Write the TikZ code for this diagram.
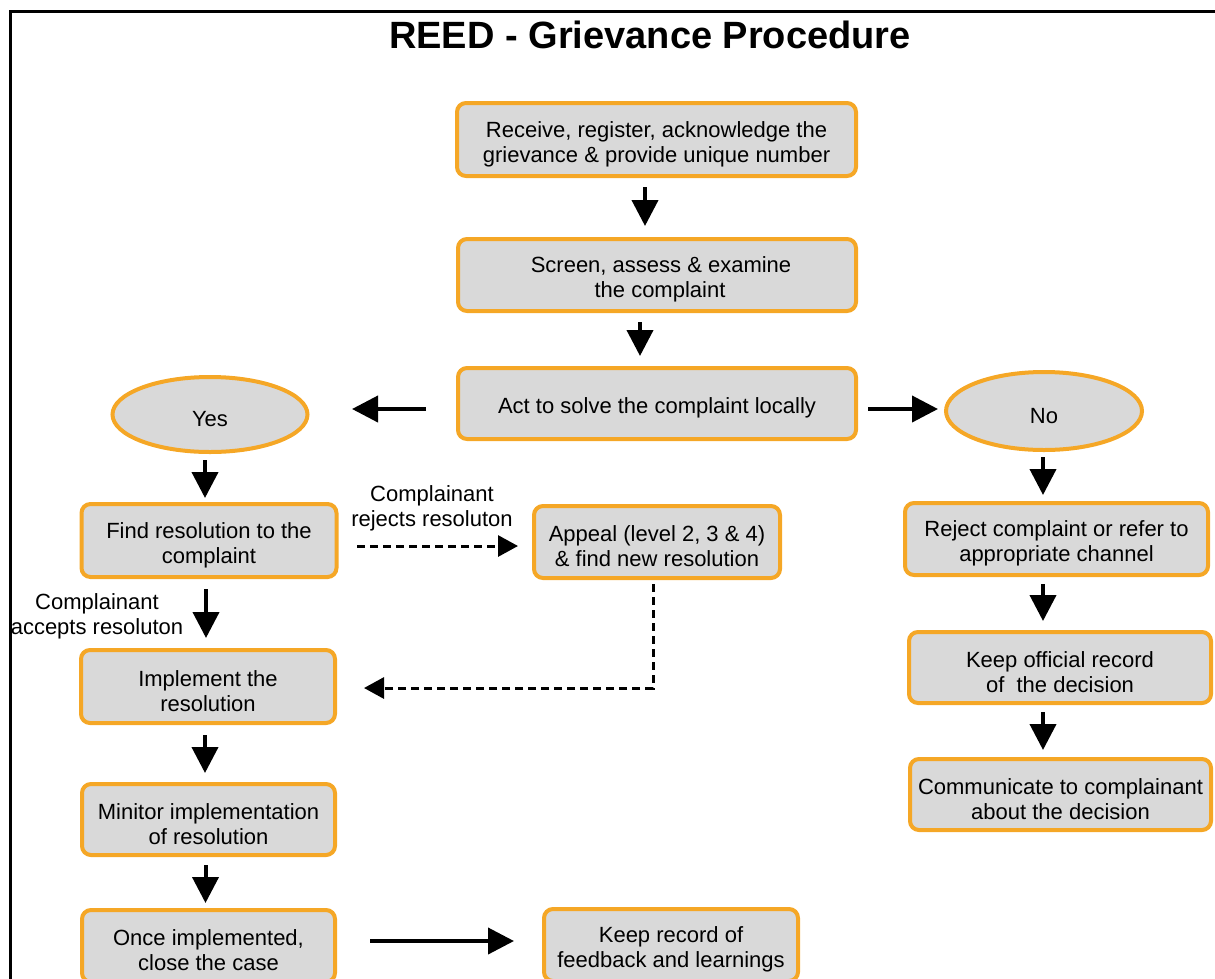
\documentclass[tikz,border=0pt]{standalone}
\usepackage{fontspec}
\setmainfont{Liberation Sans}
\usetikzlibrary{arrows.meta,shapes.geometric,calc}

\definecolor{boxorange}{RGB}{245,167,38}
\definecolor{boxgray}{RGB}{217,217,217}

% strut on the first line: sets the text a little below the box centre
\newcommand{\firststrut}{\rule{0pt}{25pt}}

\tikzset{
  stepbox/.style={draw=boxorange, line width=4pt, fill=boxgray, rounded corners=9pt,
    align=center, inner sep=0pt, font=\fontsize{22}{25}\selectfont},
  choice/.style={ellipse, draw=boxorange, line width=4pt, fill=boxgray, inner sep=0pt,
    font=\fontsize{22}{25}\selectfont},
  note/.style={align=center, inner sep=0pt, font=\fontsize{22}{25}\selectfont},
  flow/.style={line width=4pt, -{Triangle[width=26pt,length=26pt]}},
  altflow/.style={line width=3pt, dash pattern=on 8pt off 5pt, -{Triangle[width=21pt,length=20pt]}},
}

\begin{document}
\begin{tikzpicture}[x=1pt, y=-1pt]
\useasboundingbox (0,0) rectangle (1215,978);

% outer frame (runs off the right and bottom edges)
\draw[line width=3pt] (10,990) -- (10,11) -- (1230,11);

% title
\node[font=\bfseries\fontsize{38}{42}\selectfont] (title) at (650,35) {REED - Grievance Procedure};

% main column
\node[stepbox, minimum width=399pt, minimum height=73pt] (b1) at (656.5,139.5)
  {\firststrut Receive, register, acknowledge the\\grievance \& provide unique number};
\node[stepbox, minimum width=398pt, minimum height=72pt] (b2) at (657,275)
  {\firststrut\hspace*{8pt}Screen, assess \& examine\\\hspace*{6pt}the complaint};
\node[stepbox, minimum width=398pt, minimum height=71pt] (b3) at (657,403.5)
  {\firststrut Act to solve the complaint locally};

% decisions
\node[choice, minimum width=195pt, minimum height=75pt] (yes) at (210,414.5) {\firststrut Yes};
\node[choice, minimum width=196pt, minimum height=78pt] (no) at (1044,411) {\firststrut No};

% "yes" branch
\node[stepbox, minimum width=255pt, minimum height=73pt] (find) at (209,540.5)
  {\firststrut Find resolution to the\\complaint};
\node[stepbox, minimum width=246pt, minimum height=72pt] (appeal) at (657,542)
  {\firststrut Appeal (level 2, 3 \& 4)\\\& find new resolution};
\node[stepbox, minimum width=254pt, minimum height=73pt] (impl) at (208,686.5)
  {\firststrut Implement the\\resolution};
\node[stepbox, minimum width=253pt, minimum height=71pt] (mon) at (208.5,819.5)
  {\firststrut Minitor implementation\\of resolution};
\node[stepbox, minimum width=253pt, minimum height=72pt] (close) at (208.5,946)
  {\firststrut Once implemented,\\close the case};
\node[stepbox, minimum width=254pt, minimum height=72pt] (rec) at (671,945)
  {\firststrut Keep record of\\feedback and learnings};

% "no" branch
\node[stepbox, minimum width=303pt, minimum height=72pt] (rej) at (1056.5,539)
  {\firststrut Reject complaint or refer to\\appropriate channel};
\node[stepbox, minimum width=302pt, minimum height=71pt] (off) at (1060,667.5)
  {\firststrut Keep official record\\of \ the decision};
\node[stepbox, minimum width=301pt, minimum height=71pt] (comm) at (1060.5,794.5)
  {\firststrut Communicate to complainant\\about the decision};

% connector labels
\node[note] (rejlbl) at (432,508) {Complainant\\rejects resoluton};
\node[note] (acclbl) at (97,616) {Complainant\\accepts resoluton};

% connectors: main column
\draw[flow, shorten <=9pt, shorten >=11pt] ([xshift=-11.5pt]b1.south) -- ([xshift=-11.5pt]b1.south |- b2.north);
\draw[flow, shorten <=9pt, shorten >=10pt] ([xshift=-17pt]b2.south) -- ([xshift=-17pt]b2.south |- b3.north);
\draw[flow, shorten <=30pt, shorten >=42.5pt] ([yshift=-5.5pt]b3.west) -- ([yshift=-5.5pt]b3.west -| yes.east);
\draw[flow, shorten <=10pt, shorten >=6pt] ([yshift=-5.5pt]b3.east) -- ([yshift=-5.5pt]b3.east -| no.west);

% connectors: "yes" branch
\draw[flow, shorten <=6pt, shorten >=4pt] ([xshift=-5pt]yes.south) -- ([xshift=-5pt]yes.south |- find.north);
\draw[altflow, shorten <=18.5pt, shorten >=14pt] ([yshift=-5.5pt]find.east) -- ([yshift=-5.5pt]find.east -| appeal.west);
\draw[altflow, shorten <=4pt, shorten >=27pt] ([xshift=-4pt]appeal.south) |- ([yshift=-1.5pt]impl.east);
\draw[flow, shorten <=10pt, shorten >=10pt] ([xshift=-3pt]find.south) -- ([xshift=-3pt]find.south |- impl.north);
\draw[flow, shorten <=10pt, shorten >=9pt] ([xshift=-3pt]impl.south) -- ([xshift=-3pt]impl.south |- mon.north);
\draw[flow, shorten <=8pt, shorten >=5pt] ([xshift=-3pt]mon.south) -- ([xshift=-3pt]mon.south |- close.north);
\draw[flow, shorten <=33pt, shorten >=28pt] ([yshift=5pt]close.east) -- ([yshift=5pt]close.east -| rec.west);

% connectors: "no" branch
\draw[flow, shorten <=5pt, shorten >=6pt] ([xshift=-1pt]no.south) -- ([xshift=-1pt]no.south |- rej.north);
\draw[flow, shorten <=7pt, shorten >=9pt] ([xshift=-13.5pt]rej.south) -- ([xshift=-13.5pt]rej.south |- off.north);
\draw[flow, shorten <=7pt, shorten >=7pt] ([xshift=-17pt]off.south) -- ([xshift=-17pt]off.south |- comm.north);
\end{tikzpicture}
\end{document}
